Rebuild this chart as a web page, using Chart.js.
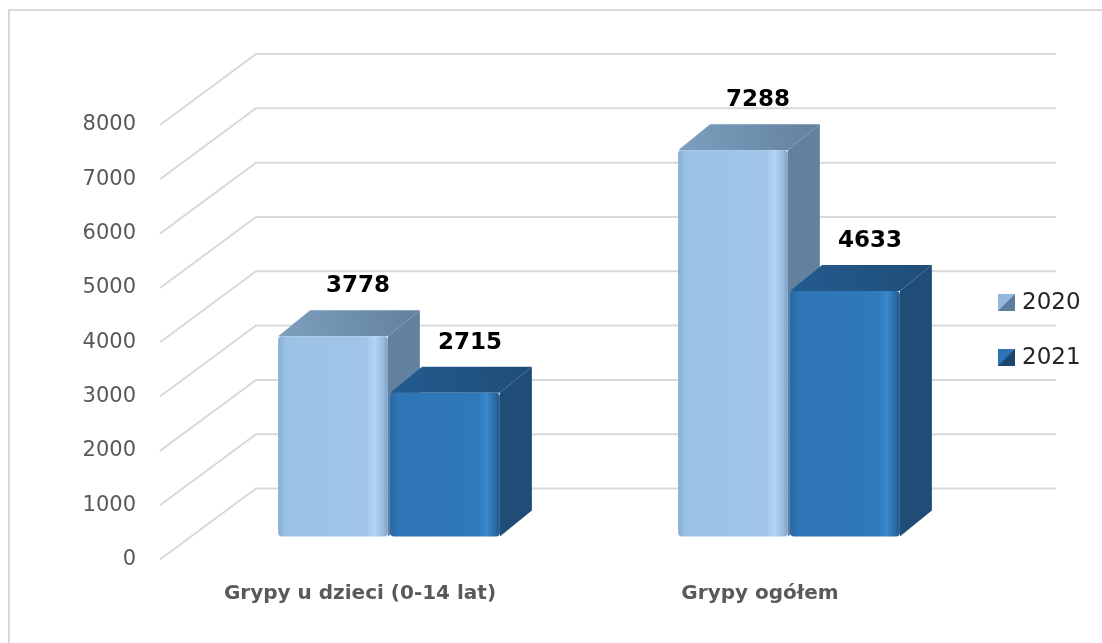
<!DOCTYPE html>
<html lang="pl">

<head>
    <meta charset="UTF-8">
    <title>Grypy 2020 / 2021</title>
    <style>
        body { margin: 0; background: #ffffff; }
        canvas { display: block; }
    </style>
</head>

<body>
    <canvas id="chartID" width="1102" height="643"></canvas>

    <script src="https://cdn.jsdelivr.net/npm/chart.js@4.4.1/dist/chart.umd.min.js"></script>
    <script>
        const categories = ["Grypy u dzieci (0-14 lat)", "Grypy ogółem"];
        const seriesNames = ["2020", "2021"];
        const values2020 = [3778, 7288];
        const values2021 = [2715, 4633];
        const yMin = 0;
        const yMax = 8000;
        const yStep = 1000;

        // colours of the 3d faces: front gradient stops, top, side, legend
        const faceColors = [
            { front: ["#86ADD6", "#9CC2E6", "#A0C5E9", "#B4D5F3", "#9ABDE0", "#7DA2C8"], top: "#7F9FBF", side: "#61819F", light: "#93B8DE", dark: "#5E7D9C" },
            { front: ["#2767A3", "#2E75B6", "#2F78BA", "#3B87CC", "#2B6DAA", "#23588B"], top: "#235B8F", side: "#1F4D78", light: "#2E73B3", dark: "#1C4670" }
        ];

        const FONT = "'DejaVu Sans', sans-serif";
        const WALL = { x: 96, y: -71 };   // depth of the back wall
        const OFF = { x: 29, y: -23 };    // bars stand a bit behind the front
        const DEPTH = { x: 32, y: -26 };  // depth of one bar

        function drawBar(ctx, el, c) {
            let l = el.x - el.width / 2 + OFF.x;
            let r = el.x + el.width / 2 + OFF.x;
            let t = el.y + OFF.y;
            let b = el.base + OFF.y;

            // side
            ctx.fillStyle = c.side;
            ctx.beginPath();
            ctx.moveTo(r, t);
            ctx.lineTo(r + DEPTH.x, t + DEPTH.y);
            ctx.lineTo(r + DEPTH.x, b + DEPTH.y);
            ctx.lineTo(r, b);
            ctx.closePath();
            ctx.fill();

            // top
            let tg = ctx.createLinearGradient(l, t, r + DEPTH.x, t + DEPTH.y);
            tg.addColorStop(0, c.top);
            tg.addColorStop(1, c.side);
            ctx.fillStyle = tg;
            ctx.beginPath();
            ctx.moveTo(l, t);
            ctx.lineTo(l + DEPTH.x, t + DEPTH.y);
            ctx.lineTo(r + DEPTH.x, t + DEPTH.y);
            ctx.lineTo(r, t);
            ctx.closePath();
            ctx.fill();

            // front
            let fg = ctx.createLinearGradient(l, 0, r, 0);
            let stops = [0, 0.07, 0.8, 0.88, 0.95, 1];
            for (let i = 0; i < stops.length; i++) {
                fg.addColorStop(stops[i], c.front[i]);
            }
            ctx.fillStyle = fg;
            ctx.beginPath();
            ctx.roundRect(l, t, r - l, b - t, 4);
            ctx.fill();
        }

        const bars3d = {
            id: "bars3d",
            beforeDatasetsDraw(chart) {
                const ctx = chart.ctx;
                const area = chart.chartArea;
                const yScale = chart.scales.y;

                // gridlines: diagonal on the side wall, flat on the back wall
                ctx.save();
                ctx.strokeStyle = "#D9D9D9";
                ctx.lineWidth = 2;
                yScale.ticks.forEach(function (t) {
                    let py = yScale.getPixelForValue(t.value);
                    ctx.beginPath();
                    ctx.moveTo(area.left, py);
                    ctx.lineTo(area.left + WALL.x, py + WALL.y);
                    ctx.lineTo(area.right + WALL.x, py + WALL.y);
                    ctx.stroke();
                });

                // bars, category by category so the 2021 bar covers the 2020 side
                for (let j = 0; j < categories.length; j++) {
                    for (let i = 0; i < chart.data.datasets.length; i++) {
                        let el = chart.getDatasetMeta(i).data[j];
                        drawBar(ctx, el, faceColors[i]);
                    }
                }

                // value labels
                ctx.fillStyle = "#000000";
                ctx.font = "bold 23px " + FONT;
                ctx.textAlign = "center";
                ctx.textBaseline = "middle";
                for (let i = 0; i < chart.data.datasets.length; i++) {
                    let meta = chart.getDatasetMeta(i);
                    meta.data.forEach(function (el, j) {
                        let v = chart.data.datasets[i].data[j];
                        ctx.fillText(String(v), el.x + OFF.x + 25, el.y + OFF.y - 50);
                    });
                }
                ctx.restore();
                return false;
            },
            afterDraw(chart) {
                const ctx = chart.ctx;
                ctx.save();

                // legend
                ctx.font = "23px " + FONT;
                ctx.textAlign = "left";
                ctx.textBaseline = "middle";
                chart.data.datasets.forEach(function (ds, i) {
                    let c = faceColors[i];
                    let x = 998, y = 302 + i * 55 - 8, s = 17;
                    ctx.fillStyle = c.light;
                    ctx.fillRect(x, y, s, s);
                    ctx.fillStyle = c.dark;
                    ctx.beginPath();
                    ctx.moveTo(x + s, y);
                    ctx.lineTo(x + s, y + s);
                    ctx.lineTo(x, y + s);
                    ctx.closePath();
                    ctx.fill();
                    ctx.fillStyle = "#262626";
                    ctx.fillText(ds.label, 1022, y + s / 2 + 1);
                });

                // frame (only the top and left edges are in the picture)
                ctx.strokeStyle = "#D9D9D9";
                ctx.lineWidth = 2;
                ctx.beginPath();
                ctx.moveTo(9, 643);
                ctx.lineTo(9, 10);
                ctx.lineTo(1102, 10);
                ctx.stroke();
                ctx.restore();
            }
        };

        new Chart(document.getElementById("chartID"), {
            type: "bar",
            data: {
                labels: categories,
                datasets: [
                    { label: seriesNames[0], data: values2020, backgroundColor: faceColors[0].front[1], yAxisID: "yb", categoryPercentage: 0.56, barPercentage: 0.98 },
                    { label: seriesNames[1], data: values2021, backgroundColor: faceColors[1].front[1], yAxisID: "yb", categoryPercentage: 0.56, barPercentage: 0.98 }
                ]
            },
            options: {
                responsive: false,
                animation: false,
                layout: { padding: { top: 125, right: 142, bottom: 0, left: 0 } },
                plugins: {
                    legend: { display: false },
                    tooltip: { enabled: false }
                },
                scales: {
                    x: {
                        grid: { display: false, drawTicks: false },
                        border: { display: false },
                        ticks: { color: "#595959", font: { family: FONT, size: 20, weight: "bold" }, padding: 22 },
                        afterFit: function (s) { s.height = 83.5; }
                    },
                    y: {
                        min: yMin,
                        max: yMax,
                        grid: { display: false, drawTicks: false },
                        border: { display: false },
                        ticks: {
                            stepSize: yStep, color: "#595959", font: { family: FONT, size: 21 }, padding: 24,
                            callback: function (v) { return String(v); }
                        },
                        afterFit: function (s) { s.width = 160; }
                    },
                    // bars sit deeper in the 3d box, so they use a slightly flatter scale
                    yb: {
                        display: false,
                        min: yMin,
                        max: 8200
                    }
                }
            },
            plugins: [bars3d]
        });
    </script>
</body>

</html>
